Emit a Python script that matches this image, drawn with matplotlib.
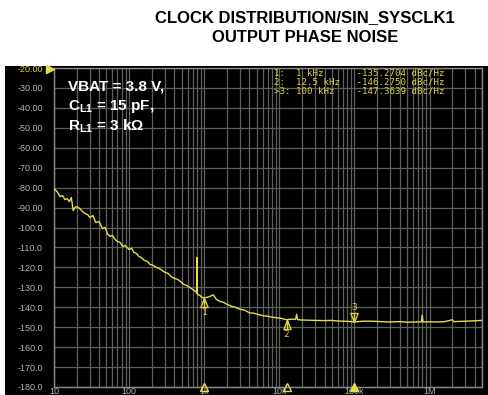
import matplotlib
matplotlib.use('Agg')
import matplotlib.pyplot as plt
from matplotlib.path import Path
from matplotlib.patches import Rectangle
import matplotlib.transforms as mtransforms
import numpy as np

plt.rcParams['font.family'] = ['Liberation Sans', 'DejaVu Sans']
plt.rcParams['mathtext.fontset'] = 'custom'
plt.rcParams['mathtext.rm'] = 'Liberation Sans:bold'
plt.rcParams['mathtext.bf'] = 'Liberation Sans:bold'

# phase noise trace (offset frequency in Hz, level in dBc/Hz)
freq = [10, 11, 12, 13, 14, 15, 16, 17, 18, 19, 20, 22, 24, 26, 28, 30, 33, 36, 40, 44,
        48, 52, 56, 60, 65, 70, 76, 82, 88, 94, 100, 108, 116, 125, 135, 145, 160, 175,
        190, 210, 230, 250, 275, 300, 330, 360, 400, 440, 480, 530, 580, 640, 700, 760,
        795, 800, 803, 806, 810, 870, 930, 1000, 1100, 1200, 1320, 1450, 1600, 1800,
        2000, 2300, 2600, 3000, 3500, 4000, 4600, 5300, 6000, 7000, 8000, 9000, 10400,
        12500, 14000, 16500, 17000, 17500, 20000, 25000, 30000, 40000, 50000, 60000,
        70000, 85000, 100000, 130000, 170000, 220000, 300000, 400000, 500000, 650000,
        780000, 800000, 820000, 1000000, 1300000, 1600000, 2000000, 2100000, 3000000,
        4000000, 5000000]
noise = [-80.5, -82, -84.5, -84, -86, -85.5, -87, -85, -91.5, -90, -89.5, -90.5, -92, -93,
         -93.5, -95, -94, -97.5, -97, -100.5, -100, -103.5, -104.5, -104, -106, -107,
         -107.5, -109.5, -109, -110, -111, -110.5, -112.5, -113, -114.5, -115, -116.5,
         -117, -118.5, -119, -120, -120.5, -121.5, -122.5, -123, -124.5, -125.5, -126,
         -127, -128.5, -129, -130, -131, -132, -132.5, -115, -133, -124.5, -133.5, -134,
         -135, -135.3, -135, -134.5, -133.8, -136, -137, -137.5, -138.5, -139.5, -140,
         -141, -141.5, -142.8, -143, -143.7, -144.2, -144.5, -145, -145.2, -145.5,
         -146.3, -146, -146, -143.5, -146.2, -146.4, -146.5, -146.6, -146.7, -146.6,
         -146.9, -147, -147.1, -147.36, -147, -147, -147.2, -147.4, -147.2, -147.5,
         -147.4, -147.3, -144, -147.4, -147.3, -147.4, -147.2, -146.3, -147.2, -147.0,
         -146.8, -146.6]

# markers
mk_freq = [1000, 12500, 100000]
mk_val = [-135.2704, -146.2750, -147.3639]
mk_labels = ['1', '2', '3']
mk_text = ['1:  1 kHz      -135.2704 dBc/Hz',
           '2:  12.5 kHz   -146.2750 dBc/Hz',
           '>3: 100 kHz    -147.3639 dBc/Hz']

yticks = list(range(-20, -190, -10))
ytick_labels = ['%.2f' % v if v > -100 else '%.1f' % v for v in yticks]
xticks = [10, 100, 1000, 10000, 100000, 1000000]
xtick_labels = ['10', '100', '1k', '10k', '100k', '1M']

trace_c = '#e6df4a'
text_c = '#d8d24a'
grid_c = '#5c615c'
label_c = '#b4b4b4'

fig = plt.figure(figsize=(4.89, 3.95), dpi=100)
fig.patch.set_facecolor('white')
fig.patches.append(Rectangle((5 / 489, 0), 484 / 489, 329 / 395, transform=fig.transFigure,
                             facecolor='black', edgecolor='none', zorder=-5))

fig.text(0.624, 0.955, 'CLOCK DISTRIBUTION/SIN_SYSCLK1', ha='center', va='center',
         fontsize=12, fontweight='bold')
fig.text(0.624, 0.905, 'OUTPUT PHASE NOISE', ha='center', va='center',
         fontsize=12, fontweight='bold')

ax = fig.add_axes([54 / 489, 8 / 395, 428 / 489, 319 / 395])
ax.set_facecolor('black')
ax.set_xscale('log')
ax.set_xlim(10, 5e6)
ax.set_ylim(-180, -20)

ax.set_yticks(yticks)
ax.set_yticklabels(ytick_labels)
ax.set_xticks(xticks)
ax.set_xticklabels(xtick_labels)
ax.xaxis.set_minor_locator(matplotlib.ticker.LogLocator(base=10, subs=np.arange(2, 10)))
ax.xaxis.set_minor_formatter(matplotlib.ticker.NullFormatter())
ax.tick_params(axis='both', which='both', length=0, colors=label_c, labelsize=6.5)
ax.tick_params(axis='y', pad=8)
ax.tick_params(axis='x', pad=0)
ax.get_yticklabels()[0].set_color(text_c)
ax.grid(True, which='both', color=grid_c, linewidth=0.9)
for s in ax.spines.values():
    s.set_color('#8a8a8a')
    s.set_linewidth(1)

ax.plot(freq, noise, color=trace_c, linewidth=1.0, zorder=3)

# marker symbols: triangle with a stem, anchored at the apex
up = Path([(0, 0), (-0.4, -1), (0.4, -1), (0, 0), (0, 0), (0, -1)],
          [Path.MOVETO, Path.LINETO, Path.LINETO, Path.CLOSEPOLY, Path.MOVETO, Path.LINETO])
down = Path([(0, 0), (-0.4, 1), (0.4, 1), (0, 0), (0, 0), (0, 1)],
            [Path.MOVETO, Path.LINETO, Path.LINETO, Path.CLOSEPOLY, Path.MOVETO, Path.LINETO])
for i, (f, v, lab) in enumerate(zip(mk_freq, mk_val, mk_labels)):
    if i < 2:
        ax.plot([f], [v], marker=up, markersize=13, fillstyle='none',
                markeredgecolor=text_c, markeredgewidth=1, zorder=4)
        ax.annotate(lab, (f, v), xytext=(0, -7.5), textcoords='offset points',
                    ha='center', va='top', color=text_c, fontsize=6.8,
                    family='DejaVu Sans Mono')
    else:
        ax.plot([f], [v], marker=down, markersize=13, fillstyle='none',
                markeredgecolor=text_c, markeredgewidth=1, zorder=4)
        ax.annotate(lab, (f, v), xytext=(0, 7), textcoords='offset points',
                    ha='center', va='bottom', color=text_c, fontsize=6.8,
                    family='DejaVu Sans Mono')

# marker flags along the frequency axis
btm = mtransforms.blended_transform_factory(ax.transData, ax.transAxes)
for i, f in enumerate(mk_freq):
    ax.plot([f], [0.0], marker='^', markersize=6, transform=btm, clip_on=False,
            markerfacecolor=trace_c if i == 2 else 'none',
            markeredgecolor=trace_c, markeredgewidth=1, zorder=5)

# reference level flag
ref = ax.plot([0], [1.0], marker='>', markersize=6, clip_on=False, color=trace_c, zorder=5)[0]
ref.set_transform(ax.transAxes + mtransforms.ScaledTranslation(-3 / 72, -1 / 72, fig.dpi_scale_trans))

# marker readout
for k, t in enumerate(mk_text):
    ax.text(0.515, 0.997 - k * 0.027, t, transform=ax.transAxes, ha='left', va='top',
            color=text_c, fontsize=6.6, family='DejaVu Sans Mono')

ax.text(0.033, 0.965, 'VBAT = 3.8 V,', transform=ax.transAxes, ha='left', va='top',
        color='white', fontsize=11, fontweight='bold')
ax.text(0.033, 0.905, r'C$_{\mathbf{L1}}$ = 15 pF,', transform=ax.transAxes, ha='left',
        va='top', color='white', fontsize=11, fontweight='bold')
ax.text(0.033, 0.845, r'R$_{\mathbf{L1}}$ = 3 k$\Omega$', transform=ax.transAxes, ha='left',
        va='top', color='white', fontsize=11, fontweight='bold')

fig.savefig('out.png', dpi=100, facecolor='white')
